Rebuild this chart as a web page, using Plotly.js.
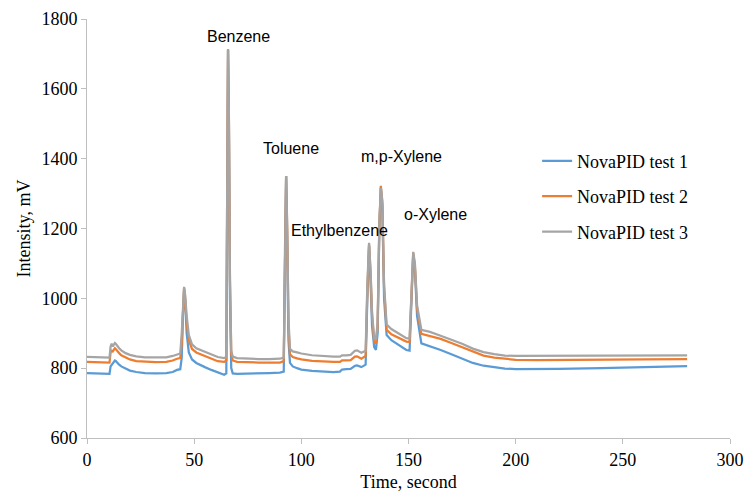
<!DOCTYPE html>
<html>
<head>
<meta charset="utf-8">
<script src="https://cdn.plot.ly/plotly-3.0.1.min.js"></script>
<style>html,body{margin:0;padding:0;background:#fff}#chart{width:746px;height:493px}</style>
</head>
<body>
<div id="chart"></div>
<script>
const time = [0,5,10,10.5,11,11.5,12,12.5,13,13.5,14,15,16,18,20,23,27,32,37,40,42,43.5,44.2,44.8,45.3,45.8,46.5,47.5,49,51,53,55,58,61,64,65,65.4,65.8,66.2,66.7,67.3,68,70,75,80,85,90,91.8,92.4,92.9,93.4,94,94.7,96,98,100,105,110,115,118,119,121,123,125,126,128,130,130.8,131.6,132.3,133,134,134.8,135.6,136.4,137.1,137.8,138.6,139.8,142,145,149,150.5,151.3,152.2,153,154,156,160,165,170,175,180,185,190,195,200,210,220,240,260,280];
const test1 = [786,785,783,784,805,810,812,818,822,820,816,810,805,798,793,789,786,785,786,789,795,797,830,960,1025,990,900,845,825,815,808,803,795,788,781,785,1300,1712,1500,1000,800,785,784,784,785,786,787,790,1150,1350,1150,880,815,805,800,796,792,790,789,790,796,797,798,807,808,803,810,1000,1150,1050,920,860,852,900,1200,1318,1260,1000,895,880,868,852,850,1000,1125,1080,950,871,863,852,840,827,815,807,802,799,797,797,798,800,803,806];
const test2 = [818,817,815,816,845,850,848,852,857,854,849,843,837,830,825,820,818,817,818,822,827,829,870,990,1030,1000,930,880,855,845,840,833,826,820,818,822,1300,1712,1520,1050,840,822,818,816,816,816,816,820,1150,1350,1200,920,840,832,828,825,821,819,818,818,822,822,823,833,834,827,835,1020,1155,1070,950,875,871,920,1210,1322,1270,1030,910,897,888,876,875,1010,1130,1090,970,898,892,884,872,860,846,836,830,826,824,823,823,824,825,826];
const test3 = [832,831,829,830,862,870,862,866,872,869,864,857,851,843,838,834,831,830,831,835,840,842,900,1000,1033,1010,950,895,868,857,852,845,838,832,829,832,1310,1714,1530,1060,850,833,829,827,826,826,827,830,1160,1350,1210,940,855,848,845,842,837,834,833,833,837,837,838,850,851,844,850,1040,1159,1080,960,885,881,930,1220,1316,1280,1040,925,912,900,886,885,1020,1133,1100,980,910,904,893,882,870,856,846,840,836,835,835,835,836,836,837];
const seriesNames = ["NovaPID test 1","NovaPID test 2","NovaPID test 3"];
const seriesColors = ["#5B9BD5","#ED7D31","#A5A5A5"];
const peakNames = ["Benzene","Toluene","Ethylbenzene","m,p-Xylene","o-Xylene"];
const peakLabelX = [70.5,95.2,117.6,146.5,162.4];
const peakLabelY = [1751,1430,1193,1407,1241];

const serif = "Liberation Serif";
const sans = "Liberation Sans";
const ys = [test1,test2,test3];
const traces = ys.map((y,i)=>({
  x: time, y: y, type:'scatter', mode:'lines', name: seriesNames[i],
  legendgroup: 'g'+i,
  line:{color:seriesColors[i], width:2.25}
}));
const annotations = peakNames.map((t,i)=>({
  x: peakLabelX[i], y: peakLabelY[i], xref:'x', yref:'y', text:t, showarrow:false,
  font:{family:sans, size:16, color:'#000'}
}));
const layout = {
  width:746, height:493,
  font:{family:serif, size:18, color:'#000'},
  margin:{l:87, r:16, t:19, b:55},
  paper_bgcolor:'#fff', plot_bgcolor:'#fff',
  showlegend:true,
  legend:{x:0.70, y:0.705, xanchor:'left', yanchor:'top', traceorder:'grouped', tracegroupgap:9,
    font:{family:serif, size:18, color:'#000'}, bgcolor:'rgba(0,0,0,0)'},
  xaxis:{range:[0,300], dtick:50, tick0:0,
    showgrid:false, zeroline:false, showline:true, linecolor:'#BFBFBF', linewidth:1,
    ticks:'outside', ticklen:5, tickcolor:'#BFBFBF',
    tickfont:{family:serif, size:18, color:'#000'},
    title:{text:'Time, second', font:{family:serif, size:18, color:'#000'}, standoff:6}},
  yaxis:{range:[600,1800], dtick:200, tick0:600,
    showgrid:false, zeroline:false, showline:true, linecolor:'#BFBFBF', linewidth:1,
    ticks:'outside', ticklen:5, tickcolor:'#BFBFBF',
    tickfont:{family:serif, size:18, color:'#000'},
    title:{text:'Intensity, mV', font:{family:serif, size:18, color:'#000'}, standoff:6}},
  annotations: annotations
};
Plotly.newPlot('chart', traces, layout, {displayModeBar:false, staticPlot:true});
</script>
</body>
</html>
